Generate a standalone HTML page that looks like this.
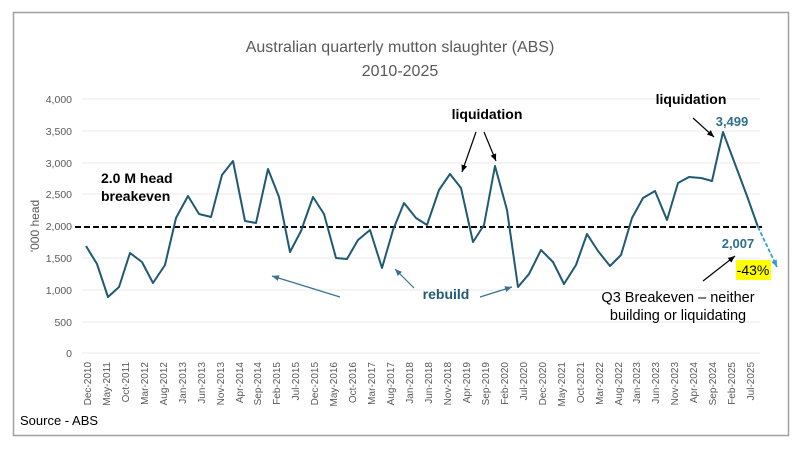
<!DOCTYPE html>
<html><head><meta charset="utf-8"><style>
html,body{margin:0;padding:0;background:#fff;}
svg{display:block;font-family:"Liberation Sans",sans-serif;}
</style></head><body>
<svg width="800" height="450" viewBox="0 0 800 450" xmlns="http://www.w3.org/2000/svg">
<defs>
<marker id="ab" markerWidth="8" markerHeight="8" refX="7" refY="4" orient="auto" markerUnits="userSpaceOnUse"><path d="M0,1 L7,4 L0,7 Z" fill="#000"/></marker>
<marker id="at" markerWidth="8" markerHeight="8" refX="7" refY="4" orient="auto" markerUnits="userSpaceOnUse"><path d="M0,1 L7,4 L0,7 Z" fill="#3a7090"/></marker>
<marker id="ac" markerWidth="8" markerHeight="8" refX="7" refY="4" orient="auto" markerUnits="userSpaceOnUse"><path d="M0,1 L7,4 L0,7 Z" fill="#2aa0d8"/></marker>
</defs>
<rect x="13.5" y="12.5" width="775" height="423" fill="#fff" stroke="#a0a0a0" stroke-width="1.5"/>
<text x="400" y="52" text-anchor="middle" font-size="16" fill="#595959">Australian quarterly mutton slaughter (ABS)</text>
<text x="400" y="76" text-anchor="middle" font-size="16" fill="#595959">2010-2025</text>
<g stroke="#e8e8e8" stroke-width="1">
<line x1="82" y1="99" x2="760" y2="99"/><line x1="82" y1="131" x2="760" y2="131"/><line x1="82" y1="163" x2="760" y2="163"/><line x1="82" y1="194" x2="760" y2="194"/><line x1="82" y1="258" x2="760" y2="258"/><line x1="82" y1="290" x2="760" y2="290"/><line x1="82" y1="322" x2="760" y2="322"/><line x1="82" y1="353" x2="760" y2="353"/>
</g>
<g font-size="10.5" fill="#595959" text-anchor="end">
<text x="72" y="103">4,000</text><text x="72" y="135">3,500</text><text x="72" y="167">3,000</text><text x="72" y="198">2,500</text><text x="72" y="230">2,000</text><text x="72" y="262">1,500</text><text x="72" y="294">1,000</text><text x="72" y="326">500</text><text x="72" y="357">0</text>
</g>
<text transform="translate(39,226) rotate(-90)" text-anchor="middle" font-size="12" fill="#595959">'000 head</text>
<line x1="75" y1="227" x2="762" y2="227" stroke="#000" stroke-width="2" stroke-dasharray="6,3"/>
<polyline fill="none" stroke="#1f5a72" stroke-width="2" stroke-linejoin="round" points="86,246 97,264 108,297 119,287 130,253 142,262 153,283 165,265 176,218 188,196 199,214 211,217 222,175 233,161 245,221 256,223 268,169 279,197 290,252 301,231 313,197 324,214 336,258 347,259 358,240 370,230 382,268 393,230 404,203 416,218 427,225 439,190 450,174 461,188 473,242 484,225 495,166 507,210 518,287 529,274 541,250 553,262 564,284 576,265 587,234 598,251 610,266 621,255 632,218 643,198 655,191 667,220 678,183 689,177 701,178 712,181 723,132 735,164 747,196 758,227"/>
<line x1="758" y1="227" x2="777" y2="267" stroke="#2aa0d8" stroke-width="1.8" stroke-dasharray="4,2" marker-end="url(#ac)"/>
<text x="101" y="183" font-size="14" font-weight="bold" fill="#000">2.0 M head</text>
<text x="101" y="201" font-size="14" font-weight="bold" fill="#000">breakeven</text>
<text x="487" y="119" text-anchor="middle" font-size="14" font-weight="bold" fill="#000">liquidation</text>
<text x="691" y="104" text-anchor="middle" font-size="14" font-weight="bold" fill="#000">liquidation</text>
<text x="732" y="126" text-anchor="middle" font-size="13" font-weight="bold" fill="#2e6f8e">3,499</text>
<text x="738" y="248" text-anchor="middle" font-size="13" font-weight="bold" fill="#2e6f8e">2,007</text>
<rect x="736" y="260" width="35" height="20" fill="#ffff00"/>
<text x="753" y="275" text-anchor="middle" font-size="14" fill="#000">-43%</text>
<text x="678" y="302" text-anchor="middle" font-size="14.5" fill="#000">Q3 Breakeven – neither</text>
<text x="678" y="320" text-anchor="middle" font-size="14.5" fill="#000">building or liquidating</text>
<text x="446" y="299" text-anchor="middle" font-size="14" font-weight="bold" fill="#1f5a72">rebuild</text>
<g stroke="#000" stroke-width="1.2" fill="none">
<line x1="476" y1="132" x2="462" y2="172" marker-end="url(#ab)"/>
<line x1="484" y1="132" x2="496" y2="161" marker-end="url(#ab)"/>
<line x1="693" y1="118" x2="714" y2="137" marker-end="url(#ab)"/>
<line x1="703" y1="281" x2="735" y2="256" marker-end="url(#ab)"/>
</g>
<g stroke="#3a7090" stroke-width="1.2" fill="none">
<line x1="340" y1="297" x2="272" y2="276" marker-end="url(#at)"/>
<line x1="414" y1="288" x2="395" y2="269" marker-end="url(#at)"/>
<line x1="480" y1="297" x2="512" y2="287" marker-end="url(#at)"/>
</g>
<text x="20" y="425" font-size="13" fill="#000">Source - ABS</text>
<g font-size="10" fill="#595959" text-anchor="end">
<text transform="translate(91,362) rotate(-90)">Dec-2010</text>
<text transform="translate(110,362) rotate(-90)">May-2011</text>
<text transform="translate(129,362) rotate(-90)">Oct-2011</text>
<text transform="translate(148,362) rotate(-90)">Mar-2012</text>
<text transform="translate(167,362) rotate(-90)">Aug-2012</text>
<text transform="translate(186,362) rotate(-90)">Jan-2013</text>
<text transform="translate(205,362) rotate(-90)">Jun-2013</text>
<text transform="translate(224,362) rotate(-90)">Nov-2013</text>
<text transform="translate(243,362) rotate(-90)">Apr-2014</text>
<text transform="translate(261,362) rotate(-90)">Sep-2014</text>
<text transform="translate(280,362) rotate(-90)">Feb-2015</text>
<text transform="translate(299,362) rotate(-90)">Jul-2015</text>
<text transform="translate(318,362) rotate(-90)">Dec-2015</text>
<text transform="translate(337,362) rotate(-90)">May-2016</text>
<text transform="translate(356,362) rotate(-90)">Oct-2016</text>
<text transform="translate(375,362) rotate(-90)">Mar-2017</text>
<text transform="translate(394,362) rotate(-90)">Aug-2017</text>
<text transform="translate(413,362) rotate(-90)">Jan-2018</text>
<text transform="translate(432,362) rotate(-90)">Jun-2018</text>
<text transform="translate(451,362) rotate(-90)">Nov-2018</text>
<text transform="translate(470,362) rotate(-90)">Apr-2019</text>
<text transform="translate(489,362) rotate(-90)">Sep-2019</text>
<text transform="translate(508,362) rotate(-90)">Feb-2020</text>
<text transform="translate(527,362) rotate(-90)">Jul-2020</text>
<text transform="translate(546,362) rotate(-90)">Dec-2020</text>
<text transform="translate(565,362) rotate(-90)">May-2021</text>
<text transform="translate(584,362) rotate(-90)">Oct-2021</text>
<text transform="translate(603,362) rotate(-90)">Mar-2022</text>
<text transform="translate(622,362) rotate(-90)">Aug-2022</text>
<text transform="translate(640,362) rotate(-90)">Jan-2023</text>
<text transform="translate(659,362) rotate(-90)">Jun-2023</text>
<text transform="translate(678,362) rotate(-90)">Nov-2023</text>
<text transform="translate(697,362) rotate(-90)">Apr-2024</text>
<text transform="translate(716,362) rotate(-90)">Sep-2024</text>
<text transform="translate(735,362) rotate(-90)">Feb-2025</text>
<text transform="translate(754,362) rotate(-90)">Jul-2025</text>
</g>
</svg>
</body></html>
